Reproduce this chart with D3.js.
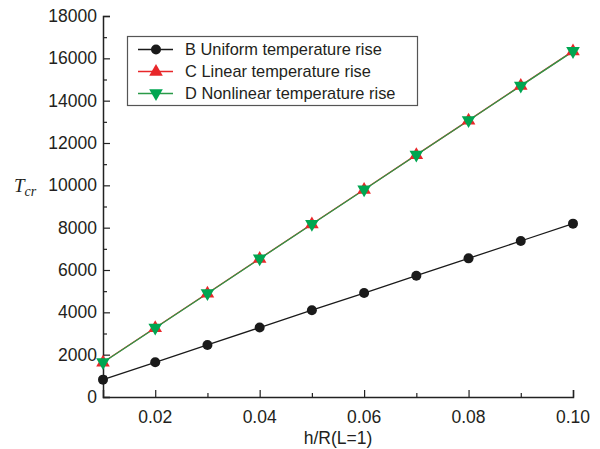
<!DOCTYPE html>
<html><head><meta charset="utf-8">
<script src="https://cdn.jsdelivr.net/npm/d3@7"></script>
<style>body{margin:0;background:#fff}svg{display:block}</style>
</head><body>
<script>
const xValues = [0.01,0.02,0.03,0.04,0.05,0.06,0.07,0.08,0.09,0.10];
const uniformB = [820,1640,2460,3280,4100,4910,5730,6550,7370,8190];
const linearC = [1640,3270,4900,6540,8170,9800,11440,13070,14710,16340];
const nonlinearD = [1630,3260,4890,6530,8160,9790,11430,13060,14700,16330];
const seriesNames = ["B Uniform temperature rise","C Linear temperature rise","D Nonlinear temperature rise"];
const xTicks = [0.02,0.04,0.06,0.08,0.10];
const yTicks = [0,2000,4000,6000,8000,10000,12000,14000,16000,18000];

const W=600,H=449;
const svg=d3.select("body").append("svg").attr("width",W).attr("height",H);
const x=d3.scaleLinear().domain([0.01,0.10]).range([103,573]);
const y=d3.scaleLinear().domain([0,18000]).range([397,16]);
const font="Liberation Sans, Arial, sans-serif";
const axisCol="#222", txtCol="#231f20";

// y axis
const ya=svg.append("g").attr("transform","translate(103,0)");
ya.call(d3.axisRight(y).tickValues(yTicks).tickSize(7).tickFormat(""));
ya.append("g").call(d3.axisRight(y).tickValues(d3.range(1000,18000,2000)).tickSize(4).tickFormat(""));
ya.selectAll("path.domain").attr("stroke",axisCol).attr("stroke-width",1.5);
ya.selectAll("line").attr("stroke",axisCol).attr("stroke-width",1.2);
ya.selectAll("g g path.domain").remove();
svg.append("g").selectAll("text").data(yTicks).join("text")
  .attr("x",97).attr("y",d=>y(d)).attr("dy","0.35em").attr("text-anchor","end")
  .attr("font-family",font).attr("font-size",17.5).attr("fill",txtCol).text(d=>d);

// x axis
const xa=svg.append("g").attr("transform","translate(0,397)");
xa.call(d3.axisTop(x).tickValues(xTicks).tickSize(7).tickFormat(""));
xa.append("g").call(d3.axisTop(x).tickValues([0.03,0.05,0.07,0.09]).tickSize(4).tickFormat(""));
xa.selectAll("path.domain").attr("stroke",axisCol).attr("stroke-width",1.5);
xa.selectAll("line").attr("stroke",axisCol).attr("stroke-width",1.2);
xa.selectAll("g g path.domain").remove();
svg.append("g").selectAll("text").data(xTicks).join("text")
  .attr("x",d=>x(d)).attr("y",417).attr("dy","0.35em").attr("text-anchor","middle")
  .attr("font-family",font).attr("font-size",17.5).attr("fill",txtCol).text(d=>d.toFixed(2));

svg.append("text").attr("x",338).attr("y",444).attr("text-anchor","middle")
  .attr("font-family",font).attr("font-size",17.5).attr("fill",txtCol).text("h/R(L=1)");
const tl=svg.append("text").attr("x",14).attr("y",192).attr("font-family","Liberation Serif, Times New Roman, serif")
  .attr("font-style","italic").attr("fill",txtCol);
tl.append("tspan").attr("font-size",19).text("T");
tl.append("tspan").attr("font-size",14).attr("dy",4).text("cr");

const line=d3.line().x((d,i)=>x(xValues[i])).y(d=>y(d));
const series=[
 {vals:uniformB,col:"#1a1a1a",line:"#1a1a1a",shape:"circle"},
 {vals:linearC,col:"#e8272a",line:"#e8272a",shape:"up"},
 {vals:nonlinearD,col:"#00a651",line:"#2a9a48",shape:"down"}
];
const tri=d3.symbol().type(d3.symbolTriangle).size(80)();
function marker(g,s,cx,cy){
  if(s.shape==="circle") g.append("circle").attr("cx",cx).attr("cy",cy).attr("r",5).attr("fill",s.col);
  else g.append("path").attr("d",tri).attr("fill",s.col)
    .attr("transform",`translate(${cx},${cy+(s.shape==="up"?0.3:-0.3)})`+(s.shape==="down"?" rotate(180)":""));
}
series.forEach(s=>{
  svg.append("path").datum(s.vals).attr("d",line).attr("fill","none").attr("stroke",s.line).attr("stroke-width",1.3);
});
series.forEach(s=>{
  const g=svg.append("g");
  s.vals.forEach((v,i)=>marker(g,s,x(xValues[i]),y(v)));
});

// legend
const lg=svg.append("g");
lg.append("rect").attr("x",127.5).attr("y",36.5).attr("width",290).attr("height",69)
  .attr("fill","#fff").attr("stroke","#555").attr("stroke-width",1.2);
series.forEach((s,i)=>{
  const cy=49.5+i*22;
  lg.append("line").attr("x1",138).attr("x2",173).attr("y1",cy).attr("y2",cy).attr("stroke",s.line).attr("stroke-width",1.3);
  marker(lg,s,156,cy);
  lg.append("text").attr("x",185).attr("y",cy).attr("dy","0.35em").attr("font-family",font)
    .attr("font-size",16.4).attr("fill",txtCol).text(seriesNames[i]);
});
</script>
</body></html>
